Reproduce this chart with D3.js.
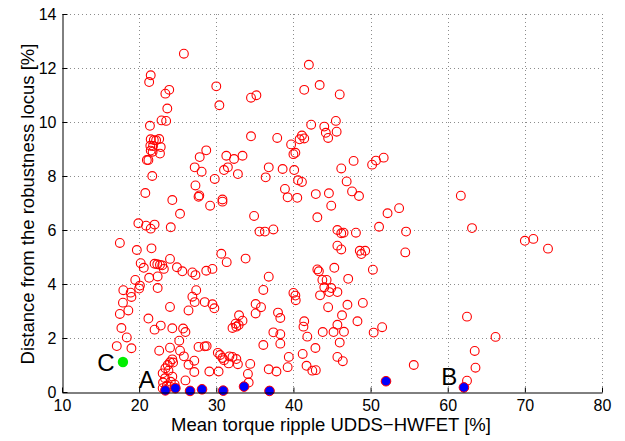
<!DOCTYPE html>
<html><head><meta charset="utf-8">
<script src="https://cdn.jsdelivr.net/npm/d3@7"></script>
<style>body{margin:0;background:#fff}svg{display:block}text{font-family:"Liberation Sans",Arial,Helvetica,sans-serif}</style>
</head><body>
<svg id="c" width="625" height="441"></svg>
<script>
const xTicks = [10,20,30,40,50,60,70,80];
const yTicks = [0,2,4,6,8,10,12,14];
const xLabel = "Mean torque ripple UDDS\u2212HWFET [%]";
const yLabel = "Distance from the robustness locus [%]";

const redPoints = [
[25.8,12.53],[21.5,11.73],[21.3,11.48],[23.9,11.19],[23.4,11.05],[30.0,11.32],[23.65,10.5],[30.4,10.62],[34.5,10.9],[35.2,10.99],[22.9,10.06],[23.5,10.04],[21.4,9.86],[42.0,12.12],[41.4,11.19],[43.4,11.37],[46.0,11.02],[42.3,9.9],[34.5,9.47],[37.9,9.41],[39.7,9.17],[41.1,9.5],[41.4,9.39],[40.8,9.36],[44.0,9.83],[44.2,9.6],[44.5,9.41],[45.5,10.04],[45.6,9.64],
[21.5,9.36],[21.9,9.33],[22.2,9.32],[22.6,9.37],[21.45,9.12],[21.8,9.11],[22.8,9.07],[21.5,8.94],[21.75,8.9],[22.7,8.83],[21.0,8.59],[21.2,8.59],[21.7,8.0],[20.8,7.37],
[28.7,8.95],[27.85,8.70],[31.3,8.75],[32.3,8.63],[33.4,8.75],[27.2,8.32],[28.1,8.16],[31.5,8.32],[31.0,8.22],[32.8,8.07],[29.8,7.89],[36.8,8.32],[36.4,7.95],[38.6,8.26],[40.1,8.22],[40.0,8.81],[40.25,8.86],[40.6,7.84],[41.1,7.78],[27.3,7.65],[27.8,7.28],[27.7,7.23],[38.9,7.52],[39.25,7.21],[40.5,7.19],[42.9,7.33],[30.8,7.13],[30.8,7.05],[24.3,7.11],[29.2,6.9],[25.3,6.6],[34.9,6.52],[43.1,6.47],
[46.2,8.28],[47.8,8.56],[50.2,8.42],[50.7,8.57],[51.7,8.68],[46.9,7.8],[44.6,7.36],[47.6,7.43],[48.5,7.26],[44.9,6.9],[52.2,6.62],[53.7,6.81],[61.7,7.27],
[17.5,5.52],[19.9,6.25],[20.9,6.16],[21.5,6.05],[22.0,6.2],[24.1,6.1],[19.7,5.26],[21.6,5.32],[35.6,5.94],[36.3,5.94],[37.4,6.02],[30.65,5.12],[45.7,6.0],[46.2,5.88],[46.5,5.9],[48.1,5.9],[51.1,6.12],[54.6,5.94],[63.15,6.07],[70.0,5.60],[71.1,5.67],[73.0,5.31],[45.7,5.42],[46.2,5.28],[48.6,5.23],[48.8,5.11],[49.3,5.23],[54.5,5.17],
[20.2,4.77],[20.6,4.6],[21.3,4.23],[22.4,4.28],[22.0,4.75],[22.35,4.73],[22.7,4.71],[23.0,4.69],[23.2,4.56],[24.0,4.93],[24.9,4.62],[25.6,4.47],[26.9,4.43],[27.3,4.33],[28.7,4.49],[29.5,4.56],[31.35,4.81],[33.8,4.94],[36.8,4.27],[43.1,4.54],[43.3,4.47],[45.3,4.6],[50.3,4.53],[43.75,4.15],[44.3,4.15],[47.1,4.19],[19.5,4.15],
[20.1,3.94],[20.0,3.83],[22.4,3.85],[17.95,3.77],[18.9,3.68],[19.0,3.52],[17.9,3.31],[18.6,3.02],[27.4,3.77],[26.9,3.53],[27.2,3.33],[24.0,3.15],[26.4,3.02],[28.5,3.33],[29.5,3.25],[29.75,3.10],[36.1,3.78],[35.1,3.26],[35.8,3.14],[40.0,3.67],[40.25,3.57],[40.3,3.40],[44.0,3.88],[44.9,3.85],[44.65,3.70],[45.7,3.70],[43.45,3.58],[44.5,3.14],[47.0,3.23],[49.0,3.30],
[17.5,2.89],[17.7,2.37],[18.4,2.02],[21.2,2.72],[22.0,2.31],[22.8,2.46],[24.3,2.36],[25.7,2.35],[26.0,2.22],[32.1,2.37],[32.6,2.42],[32.9,2.48],[32.5,2.53],[32.95,2.84],[33.4,2.64],[35.1,2.91],[38.0,2.94],[38.3,2.74],[37.4,2.21],[38.3,2.14],[41.4,2.62],[41.3,2.42],[41.8,2.05],[43.8,2.22],[45.2,2.22],[46.55,2.23],[46.3,2.84],[45.7,2.49],[48.3,2.62],[51.5,2.40],[50.4,2.20],[62.5,2.79],[66.2,2.04],
[17.1,1.70],[19.0,1.62],[25.2,1.90],[24.0,1.64],[22.6,1.53],[25.3,1.53],[25.8,1.32],[27.7,1.67],[28.5,1.69],[28.75,1.70],[27.15,1.16],[26.4,1.01],[30.2,1.45],[30.5,1.37],[30.8,1.26],[31.0,1.18],[31.6,1.06],[31.7,1.32],[32.1,1.30],[32.6,1.22],[32.8,1.03],[34.4,1.04],[36.1,1.74],[38.3,1.79],[39.4,1.3],[41.2,1.41],[41.7,0.97],[42.85,1.63],[46.0,1.83],[45.7,1.30],[46.4,1.14],[55.6,1.0],[63.5,1.52],
[27.15,0.74],[26.0,0.43],[29.1,0.76],[30.3,0.76],[34.1,0.67],[34.2,0.35],[36.8,0.84],[37.8,0.76],[39.25,0.92],[42.45,0.79],[42.9,0.81],[63.6,0.90],[62.5,0.42],
[23.05,0.69],[23.4,0.88],[23.7,1.0],[24.0,1.10],[24.3,1.21],[24.4,1.09],[23.8,0.79],[23.35,0.51],[23.1,0.35],[23.6,0.24],[24.0,0.20],[24.6,0.28],[23.05,0.14],[24.1,0.38],[24.3,0.57]
];
const bluePoints = [[23.4,0.06],[24.7,0.14],[26.6,0.04],[28.15,0.1],[30.9,0.05],[33.6,0.2],[36.9,0.04],[52.0,0.4],[62.1,0.17]];
const greenPoints = [[17.9,1.11]];
const labelNames = ["C","A","B"];
const labelAt = [[15.7,0.79],[21.0,0.16],[60.2,0.26]];

const svg = d3.select("#c");
const L=62,R=602,T=14,B=392;
const x = d3.scaleLinear().domain([10,80]).range([L,R]);
const y = d3.scaleLinear().domain([0,14]).range([B,T]);

// grid
const grid = svg.append("g").attr("stroke","#8c8c8c").attr("stroke-width",1).attr("stroke-dasharray","1,3");
grid.selectAll(".gx").data(xTicks.slice(1)).enter().append("line")
  .attr("x1",d=>Math.round(x(d))+0.5).attr("x2",d=>Math.round(x(d))+0.5).attr("y1",T).attr("y2",B);
grid.selectAll(".gy").data(yTicks.slice(1)).enter().append("line")
  .attr("y1",d=>Math.round(y(d))+0.5).attr("y2",d=>Math.round(y(d))+0.5).attr("x1",L).attr("x2",R);

// points
const pts = svg.append("g");
pts.selectAll(".r").data(redPoints).enter().append("circle")
  .attr("cx",d=>x(d[0])).attr("cy",d=>y(d[1])).attr("r",4.4)
  .attr("fill","none").attr("stroke","#ff0000").attr("stroke-width",1.1);
pts.selectAll(".b").data(bluePoints).enter().append("circle")
  .attr("cx",d=>x(d[0])).attr("cy",d=>y(d[1])).attr("r",4.8)
  .attr("fill","#0000ff").attr("stroke","#ff0000").attr("stroke-width",1);
pts.selectAll(".g").data(greenPoints).enter().append("circle")
  .attr("cx",d=>x(d[0])).attr("cy",d=>y(d[1])).attr("r",5.2)
  .attr("fill","#00ee00");

// axes
const xAxis = d3.axisBottom(x).tickValues(xTicks).tickSizeInner(-5).tickSizeOuter(0).tickPadding(7);
const yAxis = d3.axisLeft(y).tickValues(yTicks).tickSizeInner(-5).tickSizeOuter(0).tickPadding(6);
const gx = svg.append("g").attr("transform",`translate(0,${B+0.5})`).call(xAxis);
const gy = svg.append("g").attr("transform",`translate(${L+0.5},0)`).call(yAxis);
[gx,gy].forEach(g=>{
  g.select(".domain").attr("stroke","#000");
  g.selectAll(".tick line").attr("stroke","#000");
  g.selectAll(".tick text").attr("fill","#000").style("font-size","16px").style("font-family",'"Liberation Sans",Arial,sans-serif');
});

svg.append("text").attr("x",331).attr("y",431).attr("text-anchor","middle")
  .style("font-size","18.5px").text(xLabel);
svg.append("text").attr("transform","translate(34,204) rotate(-90)").attr("text-anchor","middle")
  .style("font-size","18.5px").text(yLabel);

svg.selectAll(".lbl").data(labelNames).enter().append("text")
  .attr("x",(d,i)=>x(labelAt[i][0])).attr("y",(d,i)=>y(labelAt[i][1]))
  .attr("text-anchor","middle").style("font-size","24px").text(d=>d);
</script>
</body></html>
